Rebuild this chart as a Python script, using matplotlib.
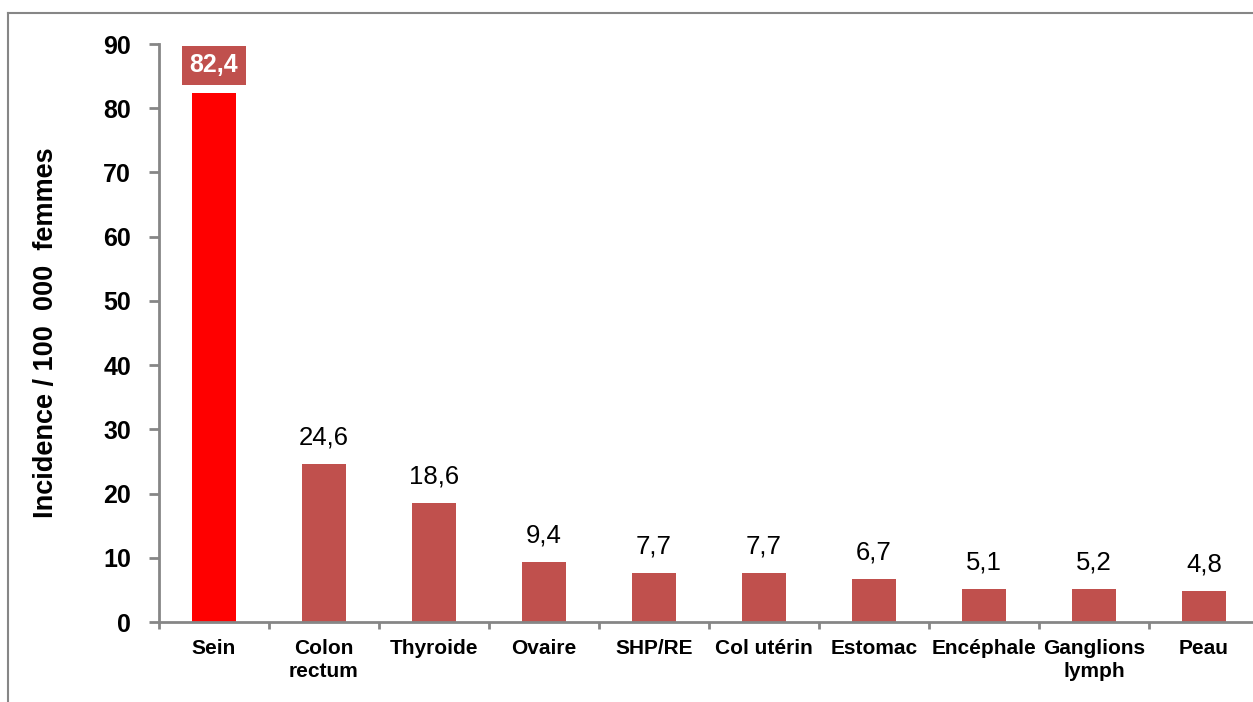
import matplotlib
matplotlib.use("Agg")
import matplotlib.pyplot as plt
from matplotlib.lines import Line2D

# donnees
categories = ["Sein", "Colon\nrectum", "Thyroide", "Ovaire", "SHP/RE",
              "Col utérin", "Estomac", "Encéphale", "Ganglions\nlymph", "Peau"]
values = [82.4, 24.6, 18.6, 9.4, 7.7, 7.7, 6.7, 5.1, 5.2, 4.8]
y_ticks = [0, 10, 20, 30, 40, 50, 60, 70, 80, 90]

RED = "#FF0000"
BRICK = "#C0504D"
GREY = "#868686"

plt.rcParams["font.family"] = ["Liberation Sans", "DejaVu Sans"]

W, H = 1253, 702
fig = plt.figure(figsize=(W / 100, H / 100), dpi=100)
ax = fig.add_axes([159 / W, 1 - 622 / H, 1100 / W, (622 - 44) / H])

x = list(range(len(values)))
colors = [RED] + [BRICK] * (len(values) - 1)
ax.bar(x, values, width=0.4, color=colors, zorder=2)

ax.set_xlim(-0.5, len(values) - 0.5)
ax.set_ylim(0, 90)
ax.set_yticks(y_ticks)
ax.set_yticklabels([str(t) for t in y_ticks], fontsize=18, fontweight="bold")
ax.set_xticks(x)
ax.set_xticklabels(categories, fontsize=15, fontweight="bold", linespacing=1.3)
ax.tick_params(axis="x", length=0, pad=12)
ax.set_xticks([i + 0.5 for i in range(-1, len(values))], minor=True)
ax.tick_params(axis="x", which="minor", length=5, width=2, color=GREY)
ax.tick_params(axis="y", length=7, width=2, color=GREY, pad=13)

for side in ["top", "right"]:
    ax.spines[side].set_visible(False)
for side in ["left", "bottom"]:
    ax.spines[side].set_color(GREY)
    ax.spines[side].set_linewidth(2)

ax.set_ylabel("Incidence / 100  000  femmes", fontsize=19.5, fontweight="bold",
              labelpad=32)

# etiquettes de valeur
for i, v in enumerate(values):
    txt = f"{v:.1f}".replace(".", ",")
    if i == 0:
        ax.annotate(txt, (i, v), xytext=(0, 20), textcoords="offset points",
                    ha="center", va="center", fontsize=18, fontweight="bold",
                    color="white",
                    bbox=dict(boxstyle="square,pad=0.3", fc=BRICK, ec="none"))
    else:
        ax.annotate(txt, (i, v), xytext=(0, 19), textcoords="offset points",
                    ha="center", va="center", fontsize=18.5, color="black")

# cadre exterieur
fig.add_artist(Line2D([8 / W, 8 / W], [0, 1 - 13 / H], color=GREY, lw=1.5))
fig.add_artist(Line2D([8 / W, 1], [1 - 13 / H, 1 - 13 / H], color=GREY, lw=1.5))

fig.savefig("out.png", dpi=100)
